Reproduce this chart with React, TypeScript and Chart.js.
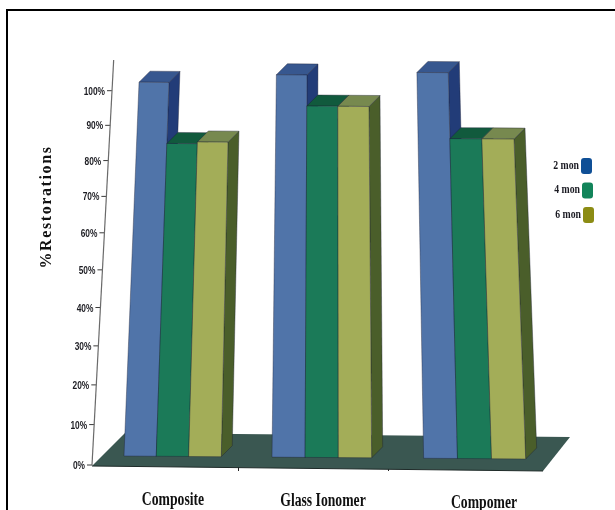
import React, { useEffect, useRef } from "react";
import { Chart, registerables, LinearScale, CategoryScale } from "chart.js";

const categories = ["Composite", "Glass Ionomer", "Compomer"];
const seriesNames = ["2 mon", "4 mon", "6 mon"];
const twoMonths = [100, 102.5, 103.5];
const fourMonths = [82.5, 93.5, 84.5];
const sixMonths = [83, 93.5, 84.5];

const FRONT = ["#5074a9", "#1b7a58", "#a3ad58"];
const TOP = ["#37578f", "#115a3d", "#77894f"];
const SIDE = ["#223c78", "#115a3d", "#4a5e2a"];
const SWATCH = ["#0f4f96", "#12845a", "#8c8c14"];
const FLOOR = "#3a5751";
const INK = "#1c1c22";
const DEPTH = 11;
const LABEL_SHIFT = [[0, 1], [0, 2], [11, 4]];

// Vertical edges lean towards a vanishing point above the plot.
const leanAt = (x: number) => 0.04 - (x - 125) * 0.0001925;
const AXIS_LEAN = 0.0535;
const AXIS_SHIFT = -6;

class PerspectiveScale extends LinearScale {
  static id = "perspective";
  static defaults = LinearScale.defaults;
  static K = 0.0974;
  getPixelForValue(value: number) {
    const d = (value - this.min) / (this.max - this.min);
    const k = PerspectiveScale.K;
    const f = (d * (1 + k)) / (1 + k * d);
    return this.bottom - (this.bottom - this.top) * f;
  }
  getValueForPixel(pixel: number) {
    const f = (this.bottom - pixel) / (this.bottom - this.top);
    const k = PerspectiveScale.K;
    const d = f / (1 + k - k * f);
    return this.min + d * (this.max - this.min);
  }
  axisX(y: number) {
    return this.right + AXIS_SHIFT + (this.bottom - y) * AXIS_LEAN;
  }
  drawGrid() {
    const ctx = this.ctx;
    ctx.save();
    ctx.strokeStyle = "#3a3a3a";
    ctx.lineWidth = 1;
    this.ticks.forEach((tick: any) => {
      const y = this.getPixelForValue(tick.value);
      const x = this.axisX(y);
      ctx.beginPath();
      ctx.moveTo(x - 5, y);
      ctx.lineTo(x, y);
      ctx.stroke();
    });
    ctx.restore();
  }
  drawBorder() {
    const ctx = this.ctx;
    ctx.save();
    ctx.strokeStyle = "#6a6a6a";
    ctx.lineWidth = 1.2;
    ctx.beginPath();
    ctx.moveTo(this.axisX(this.bottom), this.bottom);
    ctx.lineTo(this.axisX(this.top), this.top);
    ctx.stroke();
    ctx.restore();
  }
  drawLabels() {
    const ctx = this.ctx;
    this.ticks.forEach((tick: any) => {
      const y = this.getPixelForValue(tick.value);
      ctx.save();
      ctx.translate(this.axisX(y) - 7, y + 1);
      ctx.scale(0.76, 1);
      ctx.fillStyle = INK;
      ctx.font = "bold 11px 'Liberation Sans'";
      ctx.textAlign = "right";
      ctx.textBaseline = "middle";
      ctx.fillText(`${tick.value}%`, 0, 0);
      ctx.restore();
    });
  }
  drawTitle() {
    const ctx = this.ctx;
    ctx.save();
    ctx.translate(51, 207);
    ctx.rotate(-Math.PI / 2);
    ctx.fillStyle = "#111";
    ctx.font = "bold 16px 'Liberation Serif'";
    (ctx as any).letterSpacing = "1.6px";
    ctx.textAlign = "center";
    ctx.textBaseline = "alphabetic";
    ctx.fillText(this.options.title.text, 0, 0);
    ctx.restore();
  }
}

class GroupScale extends CategoryScale {
  static id = "group";
  static defaults = CategoryScale.defaults;
  drawGrid() {
    const ctx = this.ctx;
    ctx.save();
    ctx.strokeStyle = "#222";
    this.ticks.forEach((_: any, i: number) => {
      if (i === 0) return;
      const x = (this.getPixelForTick(i - 1) + this.getPixelForTick(i)) / 2 - 9.5;
      ctx.beginPath();
      ctx.moveTo(x, this.top + 2);
      ctx.lineTo(x, this.top + 6);
      ctx.stroke();
    });
    ctx.restore();
  }
  drawBorder() {}
  drawLabels() {
    const ctx = this.ctx;
    this.ticks.forEach((tick: any, i: number) => {
      ctx.save();
      ctx.translate(this.getPixelForTick(i) + LABEL_SHIFT[i][0], this.top + 39 + LABEL_SHIFT[i][1]);
      ctx.scale(0.76, 1);
      ctx.fillStyle = "#111";
      ctx.font = "bold 18px 'Liberation Serif'";
      ctx.textAlign = "center";
      ctx.textBaseline = "alphabetic";
      ctx.fillText(tick.label, 0, 0);
      ctx.restore();
    });
  }
}

Chart.register(...registerables, PerspectiveScale, GroupScale);

// Maps a flat bar corner onto the tilted floor and leaning verticals.
const project = (area: any, x: number, y: number): [number, number] => [
  x + leanAt(x) * (area.bottom - y) - 1.5 + (x - 280) ** 2 * 0.00008,
  y - 8.5 + (x - 125) * 0.0075,
];

const poly = (ctx: CanvasRenderingContext2D, pts: [number, number][], fill: string) => {
  ctx.beginPath();
  pts.forEach(([x, y], i) => (i ? ctx.lineTo(x, y) : ctx.moveTo(x, y)));
  ctx.closePath();
  ctx.fillStyle = fill;
  ctx.fill();
  ctx.strokeStyle = "rgba(25,30,50,0.55)";
  ctx.lineWidth = 0.7;
  ctx.stroke();
};

const solidBars = {
  id: "solidBars",
  beforeDatasetsDraw(chart: any) {
    const { ctx, chartArea: a } = chart;
    ctx.save();
    // floor
    ctx.beginPath();
    ctx.moveTo(a.left - 6, a.bottom + 1);
    ctx.lineTo(a.right - 5, a.bottom + 6);
    ctx.lineTo(a.right + 22, a.bottom - 28);
    ctx.lineTo(a.left + 27, a.bottom - 32);
    ctx.closePath();
    ctx.fillStyle = FLOOR;
    ctx.fill();
    ctx.beginPath();
    ctx.moveTo(a.left - 6, a.bottom + 1);
    ctx.lineTo(a.right - 5, a.bottom + 6);
    ctx.strokeStyle = "#1e2a28";
    ctx.lineWidth = 1;
    ctx.stroke();

    const groups = chart.data.labels.length;
    for (let g = 0; g < groups; g++) {
      chart.data.datasets.forEach((_: any, s: number) => {
        const bar = chart.getDatasetMeta(s).data[g];
        const l = bar.x - bar.width / 2;
        const r = bar.x + bar.width / 2;
        const tl = project(a, l, bar.y);
        const tr = project(a, r, bar.y);
        const bl = project(a, l, bar.base);
        const br = project(a, r, bar.base);
        const back = ([x, y]: [number, number]): [number, number] => [x + DEPTH, y - DEPTH];
        poly(ctx, [br, back(br), back(tr), tr], SIDE[s]);
        poly(ctx, [tl, back(tl), back(tr), tr], TOP[s]);
        poly(ctx, [tl, tr, br, bl], FRONT[s]);
      });
    }
    ctx.restore();
  },
};

const sideLegend = {
  id: "sideLegend",
  afterDraw(chart: any) {
    const { ctx } = chart;
    chart.data.datasets.forEach((ds: any, i: number) => {
      const y = 166 + i * 24.5;
      ctx.save();
      ctx.translate(579 + i, y);
      ctx.scale(0.85, 1);
      ctx.fillStyle = "#1a1a22";
      ctx.font = "bold 11.5px 'Liberation Serif'";
      ctx.textAlign = "right";
      ctx.textBaseline = "middle";
      ctx.fillText(ds.label, 0, 0);
      ctx.restore();
      ctx.fillStyle = SWATCH[i];
      ctx.beginPath();
      ctx.roundRect(581 + i, y - 8, 11, 16, 3);
      ctx.fill();
    });
  },
};

export default function App() {
  const ref = useRef<HTMLCanvasElement>(null);
  useEffect(() => {
    const chart = new Chart(ref.current!, {
      type: "bar",
      data: {
        labels: categories,
        datasets: [twoMonths, fourMonths, sixMonths].map((data, i) => ({
          label: seriesNames[i],
          data,
          backgroundColor: "rgba(0,0,0,0)",
          borderWidth: 0,
          categoryPercentage: 0.66,
          barPercentage: 1,
        })),
      },
      options: {
        animation: false,
        responsive: false,
        layout: { padding: { left: 0, right: 67, top: 60, bottom: 0 } },
        plugins: { legend: { display: false }, tooltip: { enabled: false } },
        scales: {
          x: {
            type: "group",
            grid: { display: false },
            ticks: { autoSkip: false, maxRotation: 0 },
            afterFit: (s: any) => { s.height = 45; },
          },
          y: {
            type: "perspective",
            min: 0,
            max: 109,
            title: { display: true, text: "%Restorations" },
            ticks: { stepSize: 10, includeBounds: false },
            afterFit: (s: any) => { s.width = 98; },
          },
        },
      } as any,
      plugins: [solidBars, sideLegend],
    });
    return () => chart.destroy();
  }, []);
  return (
    <div style={{ position: "fixed", left: 0, top: 0, width: 615, height: 510, background: "#fff", overflow: "hidden" }}>
      <canvas ref={ref} width={615} height={510} style={{ display: "block" }} />
      <div style={{ position: "absolute", left: 6, top: 9, width: 700, height: 700, border: "2.5px solid #000", boxSizing: "border-box" }} />
    </div>
  );
}
